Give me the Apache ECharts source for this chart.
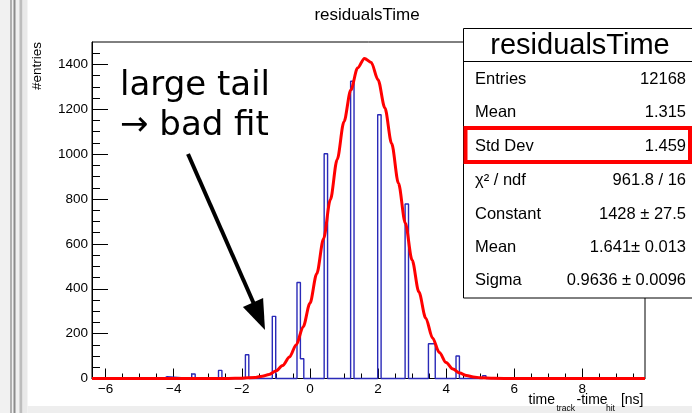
<!DOCTYPE html>
<html>
<head>
<meta charset="utf-8">
<script src="https://cdn.jsdelivr.net/npm/echarts@6/dist/echarts.min.js"></script>
<style>html,body{margin:0;padding:0;background:#fff;}#c{width:692px;height:413px;}</style>
</head>
<body>
<div id="c"></div>
<script>
// ---- data ----
const binCenters = [-4.245, -3.42, -2.635, -1.845, -1.055, -0.33, -0.23, 0.468, 1.245, 2.04, 2.845, 3.53, 3.63, 4.34, 5.12];
const binCounts  = [8, 20, 36, 106, 277, 428, 88, 1002, 1325, 1176, 778, 155, 155, 100, 12];
const BIN_WIDTH = 0.1;

const fitX = [-6.4, -3.0, -2.4, -2.0, -1.6, -1.4, -1.2, -1.0, -0.8, -0.6, -0.4, -0.2, 0.0, 0.2, 0.4, 0.6, 0.8, 1.0, 1.2, 1.4, 1.6, 1.8, 2.0, 2.2, 2.4, 2.6, 2.8, 3.0, 3.2, 3.4, 3.6, 3.8, 4.0, 4.2, 4.4, 4.6, 4.8, 5.0, 5.4, 6.0, 9.84];
const fitY = [0, 0, 0.2, 1, 5, 10, 18, 33, 58, 96, 151, 230, 335, 467, 623, 797, 976, 1145, 1286, 1384, 1427, 1409, 1332, 1207, 1047, 870, 693, 528, 386, 270, 181, 116, 71, 42, 24, 13, 7, 3, 1, 0, 0];

const xTickLabels = [-6, -4, -2, 0, 2, 4, 6, 8];
const xMinorTicks = [-5.5, -5, -4.5, -3.5, -3, -2.5, -1.5, -1, -0.5, 0.5, 1, 1.5, 2.5, 3, 3.5, 4.5, 5, 5.5, 6.5, 7, 7.5, 8.5, 9, 9.5];
const yTickLabels = [0, 200, 400, 600, 800, 1000, 1200, 1400];
const yMinorTicks = [50, 100, 150, 250, 300, 350, 450, 500, 550, 650, 700, 750, 850, 900, 950, 1050, 1100, 1150, 1250, 1300, 1350, 1450];

const statLabels = ['Entries', 'Mean', 'Std Dev', 'χ² / ndf', 'Constant', 'Mean', 'Sigma'];
const statValues = ['12168', '1.315', '1.459', '961.8 / 16', '1428 ± 27.5', '1.641± 0.013', '0.9636 ± 0.0096'];

const X_MIN = -6.4, X_MAX = 9.84, Y_MIN = 0, Y_MAX = 1500;

// build ROOT-style step outline from bins
function stepOutline(xs, ys, w, lo, hi) {
  const pts = [[lo, 0]];
  const n = xs.length;
  let prevR = null;
  for (let i = 0; i < n; i++) {
    let L = xs[i] - w / 2;
    const R = xs[i] + w / 2;
    const prevAdj = prevR !== null && Math.abs(prevR - L) < w * 0.3;
    if (prevAdj) { L = prevR; pts.push([L, ys[i]]); }
    else { pts.push([L, 0], [L, ys[i]]); }
    pts.push([R, ys[i]]);
    const nextAdj = i < n - 1 && Math.abs((xs[i + 1] - w / 2) - R) < w * 0.3;
    if (!nextAdj) pts.push([R, 0]);
    prevR = R;
  }
  pts.push([hi, 0]);
  return pts;
}

const FONT = '"Liberation Sans", Arial, Helvetica, sans-serif';
const chart = echarts.init(document.getElementById('c'), null, {renderer: 'canvas', width: 692, height: 413});

const minusFmt = v => (v < 0 ? '\u2212' + (-v) : String(v));
const plainFmt = v => String(v);

const statsGraphics = [];
const rowY = [79.5, 112.5, 146, 180, 214, 247.5, 280.5];
statLabels.forEach((t, i) => {
  statsGraphics.push({type: 'text', z: 102, style: {text: t, x: 475, y: rowY[i], fill: '#000', font: '16.5px ' + FONT, align: 'left', verticalAlign: 'middle'}});
  statsGraphics.push({type: 'text', z: 102, style: {text: statValues[i], x: 686, y: rowY[i], fill: '#000', font: '16.5px ' + FONT, align: 'right', verticalAlign: 'middle'}});
});

const option = {
  animation: false,
  backgroundColor: '#ffffff',
  grid: {left: 92, top: 42, width: 553, height: 336.5, show: true, borderColor: '#000', borderWidth: 1, backgroundColor: 'transparent', containLabel: false},
  xAxis: [
    {type: 'value', min: X_MIN, max: X_MAX, position: 'bottom',
     axisLine: {show: true, onZero: false, lineStyle: {color: '#000', width: 1}},
     axisTick: {show: true, inside: true, length: 10, customValues: xTickLabels, lineStyle: {color: '#000', width: 1}},
     axisLabel: {show: true, customValues: xTickLabels, formatter: minusFmt, color: '#000', fontSize: 13.5, fontFamily: FONT, margin: 4},
     splitLine: {show: false}},
    {type: 'value', min: X_MIN, max: X_MAX, position: 'bottom',
     axisLine: {show: false, onZero: false},
     axisTick: {show: true, inside: true, length: 5, customValues: xMinorTicks, lineStyle: {color: '#000', width: 1}},
     axisLabel: {show: false}, splitLine: {show: false}}
  ],
  yAxis: [
    {type: 'value', min: Y_MIN, max: Y_MAX, position: 'left',
     axisLine: {show: true, onZero: false, lineStyle: {color: '#000', width: 1}},
     axisTick: {show: true, inside: true, length: 16, customValues: yTickLabels, lineStyle: {color: '#000', width: 1}},
     axisLabel: {show: true, customValues: yTickLabels, formatter: plainFmt, color: '#000', fontSize: 13.5, fontFamily: FONT, margin: 4},
     splitLine: {show: false}},
    {type: 'value', min: Y_MIN, max: Y_MAX, position: 'left',
     axisLine: {show: false, onZero: false},
     axisTick: {show: true, inside: true, length: 8, customValues: yMinorTicks, lineStyle: {color: '#000', width: 1}},
     axisLabel: {show: false}, splitLine: {show: false}}
  ],
  series: [
    {type: 'line', name: 'hist', xAxisIndex: 0, yAxisIndex: 0, z: 2,
     data: stepOutline(binCenters, binCounts, BIN_WIDTH, X_MIN, X_MAX),
     showSymbol: false, symbol: 'none', clip: false,
     lineStyle: {color: '#2a2ab8', width: 1.4}},
    {type: 'line', name: 'fit', xAxisIndex: 0, yAxisIndex: 0, z: 3,
     data: fitX.map((x, i) => [x, fitY[i]]),
     showSymbol: false, symbol: 'none', clip: false, smooth: 0.3, smoothMonotone: 'x',
     lineStyle: {color: '#ff0000', width: 3}}
  ],
  graphic: [
    // window decoration (left strip and bottom strip)
    {type: 'rect', z: -10, shape: {x: 0, y: 0, width: 23, height: 413}, style: {fill: '#f1f1f1'}},
    {type: 'rect', z: -9, shape: {x: 10, y: 0, width: 2, height: 413}, style: {fill: '#b0b0b0'}},
    {type: 'rect', z: -9, shape: {x: 13.5, y: 0, width: 2, height: 413}, style: {fill: '#8c8c8c'}},
    {type: 'rect', z: -9, shape: {x: 19.5, y: 0, width: 3, height: 413}, style: {fill: '#bdbdbd'}},
    {type: 'rect', z: -9, shape: {x: 22.5, y: 0, width: 5, height: 413}, style: {fill: '#e9e9e9'}},
    {type: 'rect', z: -9, shape: {x: 27.5, y: 406, width: 665, height: 7}, style: {fill: '#eeeeee'}},
    // title
    {type: 'text', z: 50, style: {text: 'residualsTime', x: 367, y: 15, fill: '#000', font: '17px ' + FONT, align: 'center', verticalAlign: 'middle'}},
    // y axis title
    {type: 'text', z: 50, x: 37, y: 42, rotation: Math.PI / 2, style: {text: '#entries', x: 0, y: 0, fill: '#000', font: '13.5px ' + FONT, align: 'right', verticalAlign: 'middle'}},
    // x axis title with subscripts
    {type: 'text', z: 50, style: {text: 'time', x: 528.5, y: 400, fill: '#000', font: '14px ' + FONT, align: 'left', verticalAlign: 'middle'}},
    {type: 'text', z: 50, style: {text: 'track', x: 556.5, y: 408.5, fill: '#000', font: '8.5px ' + FONT, align: 'left', verticalAlign: 'middle'}},
    {type: 'text', z: 50, style: {text: '-time', x: 576.5, y: 400, fill: '#000', font: '14px ' + FONT, align: 'left', verticalAlign: 'middle'}},
    {type: 'text', z: 50, style: {text: 'hit', x: 606, y: 408.5, fill: '#000', font: '8.5px ' + FONT, align: 'left', verticalAlign: 'middle'}},
    {type: 'text', z: 50, style: {text: '[ns]', x: 643.5, y: 400, fill: '#000', font: '14px ' + FONT, align: 'right', verticalAlign: 'middle'}},
    // stats box
    {type: 'rect', z: 100, shape: {x: 463.5, y: 28.5, width: 240, height: 269.5}, style: {fill: '#fff', stroke: '#000', lineWidth: 1}},
    {type: 'line', z: 101, shape: {x1: 463.5, y1: 61.5, x2: 692, y2: 61.5}, style: {stroke: '#000', lineWidth: 1}},
    {type: 'text', z: 102, style: {text: 'residualsTime', x: 580, y: 46, fill: '#000', font: '29px ' + FONT, align: 'center', verticalAlign: 'middle'}},
    ...statsGraphics,
    {type: 'rect', z: 103, shape: {x: 465.5, y: 128, width: 224.5, height: 34}, style: {fill: 'none', stroke: '#ff0000', lineWidth: 4}},
    // annotation
    {type: 'text', z: 60, style: {text: 'large tail', x: 120, y: 86.5, fill: '#000', font: '34px "DejaVu Sans", sans-serif', align: 'left', verticalAlign: 'middle'}},
    {type: 'text', z: 60, style: {text: '\u2192 bad fit', x: 120, y: 126, fill: '#000', font: '34px "DejaVu Sans", sans-serif', align: 'left', verticalAlign: 'middle'}},
    {type: 'line', z: 60, shape: {x1: 188, y1: 154, x2: 254, y2: 304}, style: {stroke: '#000', lineWidth: 4}},
    {type: 'polygon', z: 60, shape: {points: [[265, 330], [263.1, 298.1], [242.9, 306.9]]}, style: {fill: '#000'}}
  ]
};
chart.setOption(option);
</script>
</body>
</html>
